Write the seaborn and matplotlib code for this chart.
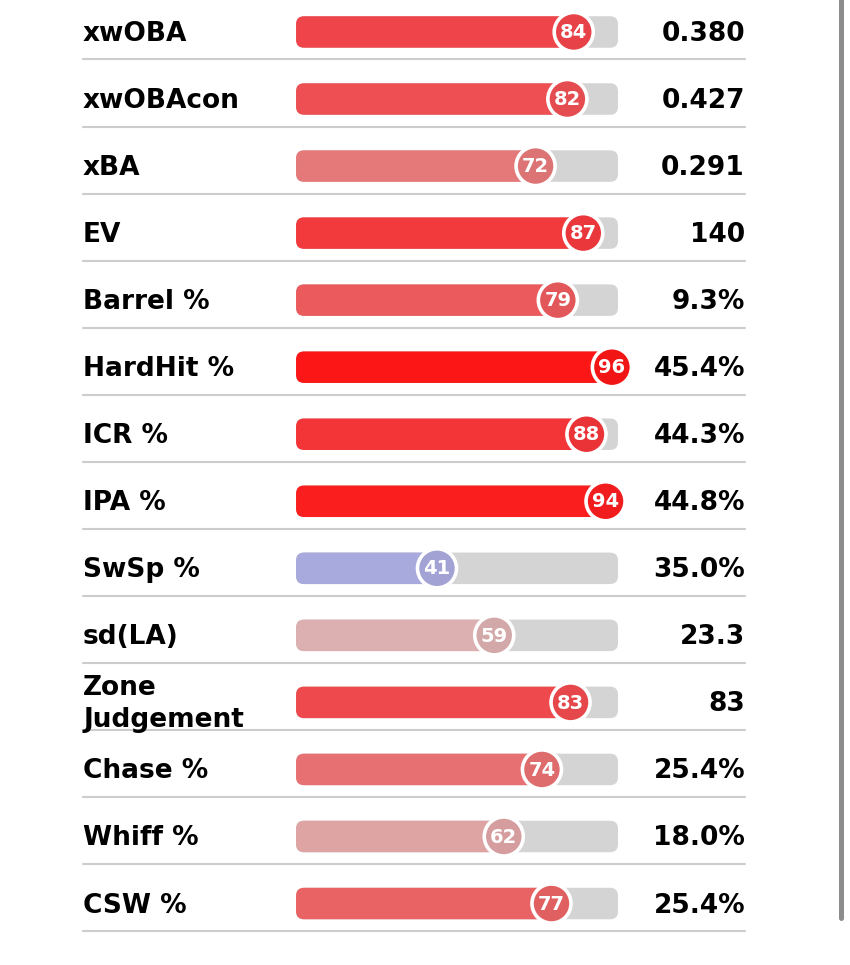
import pandas as pd
import matplotlib
matplotlib.use("Agg")
import matplotlib.pyplot as plt
import matplotlib.transforms as mtransforms
from matplotlib.patches import FancyBboxPatch
from matplotlib.lines import Line2D
from matplotlib.colors import LinearSegmentedColormap
import seaborn as sns

# dados
metrics = ['xwOBA', 'xwOBAcon', 'xBA', 'EV', 'Barrel %', 'HardHit %', 'ICR %', 'IPA %',
           'SwSp %', 'sd(LA)', 'Zone\nJudgement', 'Chase %', 'Whiff %', 'CSW %']
percentiles = [84, 82, 72, 87, 79, 96, 88, 94, 41, 59, 83, 74, 62, 77]
values = ['0.380', '0.427', '0.291', '140', '9.3%', '45.4%', '44.3%', '44.8%',
          '35.0%', '23.3', '83', '25.4%', '18.0%', '25.4%']

df = pd.DataFrame({'metric': metrics, 'pct': percentiles, 'value': values})
df['row'] = range(len(df))

# escala de cores (azul -> cinza -> vermelho)
cmap = LinearSegmentedColormap.from_list('pct', [
    (0.00, '#3b4cc0'), (0.41, '#a9a9dd'), (0.50, '#d3cfd3'), (0.59, '#dcb0b1'),
    (0.72, '#e57a7a'), (0.84, '#ef464b'), (0.96, '#fc1616'), (1.00, '#ff0000')])
colors = [cmap(p / 100) for p in df['pct']]
# circulo um pouco mais escuro que a barra
dot_colors = [tuple(c * 0.96 for c in col[:3]) for col in colors]

sns.set_theme(style='white')
plt.rcParams['font.family'] = ['DejaVu Sans']

W, H = 850, 965
fig = plt.figure(figsize=(W / 100, H / 100), dpi=100)
ax = fig.add_axes([0, 0, 1, 1])

TRACK_L, TRACK_R = -3.33, 97.92

# trilho cinza e barra colorida
sns.barplot(x=[TRACK_R] * len(df), y=df['row'], orient='y', color='#d4d4d4',
            width=0.47, ax=ax)
sns.barplot(data=df, x='pct', y='row', orient='y', hue='row', palette=colors,
            width=0.47, legend=False, ax=ax, saturation=1)

ax.set_xlim(-96.42, 170.87)
ax.set_ylim(13.917, -0.477)
ax.axis('off')

# cantos arredondados
xs = 850 / (170.87 + 96.42)
ys = 965 / (13.917 + 0.477)
asp = xs / ys
r = 8 / xs
for bar in list(ax.patches):
    x1 = bar.get_x() + bar.get_width()
    rb = FancyBboxPatch((TRACK_L, bar.get_y()), x1 - TRACK_L, bar.get_height(),
                        boxstyle=f'round,pad=0,rounding_size={r}', mutation_aspect=asp,
                        fc=bar.get_facecolor(), ec='none', zorder=2)
    bar.remove()
    ax.add_patch(rb)

# marcador com o percentil
sns.scatterplot(data=df, x='pct', y='row', hue='row', palette=dot_colors, s=790,
                edgecolor='white', linewidth=2.6, legend=False, ax=ax, zorder=3)

blend = mtransforms.blended_transform_factory(ax.transAxes, ax.transData)
for i, row in df.iterrows():
    ax.text(83 / W, row['row'] + 0.03, row['metric'], transform=blend, ha='left', va='center',
            fontsize=19, fontweight='bold', color='black', linespacing=1.3)
    ax.text(row['pct'], row['row'] + 0.01, str(row['pct']), ha='center', va='center',
            fontsize=14, fontweight='bold', color='white', zorder=4)
    ax.text(745 / W, row['row'] + 0.03, row['value'], transform=blend, ha='right', va='center',
            fontsize=19, fontweight='bold', color='black')
    ax.axhline(row['row'] + 0.41, xmin=83 / W, xmax=745 / W, color='#cccccc', lw=1.5)

# barra de rolagem
fig.add_artist(Line2D([841 / W, 841 / W], [1, 1 - 918 / H], color='#8c8c8c', lw=3.6,
                      solid_capstyle='round'))

fig.savefig('out.png', dpi=100, facecolor='white')
